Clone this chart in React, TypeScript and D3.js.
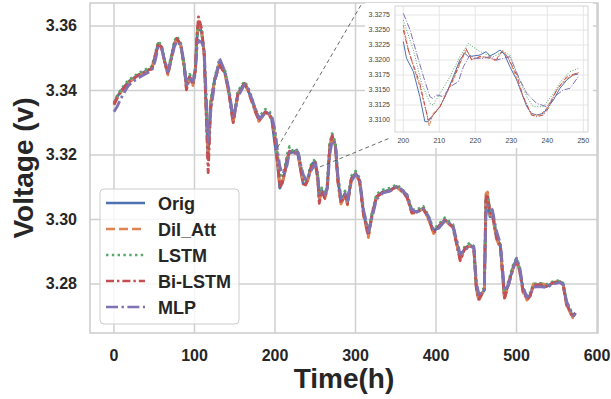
import React from "react";
import * as d3 from "d3";

// ---------- main panel data (hours, volts) ----------
const tMain = [0,4,8,13,18,24,30,36,42,47,51,55,59,63,67,71,75,78,83,87,90,94,98,101,103,105,109,112,115,117,120,125,131,138,143,148,154,162,166,171,176,180,184,188,193,196,200,203,206,209,212,215,218,221,224,227,229,232,235,238,241,244,247,250,253,255,258,262,265,268,271,275,278,282,287,290,295,300,305,310,316,320,326,334,343,351,357,364,370,376,384,390,397,403,411,421,430,436,442,447,450,453,457,460,462,464,467,470,475,480,483,485,490,496,500,504,508,513,517,521,529,537,546,554,558,562,566,570,573];

const origV = [3.3360,3.3380,3.3396,3.3412,3.3427,3.3437,3.3448,3.3455,3.3463,3.3469,3.3505,3.3546,3.3535,3.3490,3.3453,3.3500,3.3545,3.3562,3.3541,3.3480,3.3412,3.3443,3.3422,3.3464,3.3560,3.3608,3.3577,3.3515,3.3309,3.3190,3.3360,3.3433,3.3484,3.3453,3.3391,3.3303,3.3391,3.3422,3.3405,3.3371,3.3335,3.3309,3.3322,3.3334,3.3326,3.3310,3.3231,3.3175,3.3097,3.3115,3.3144,3.3190,3.3206,3.3208,3.3210,3.3215,3.3195,3.3150,3.3111,3.3110,3.3128,3.3158,3.3175,3.3178,3.3130,3.3065,3.3091,3.3071,3.3102,3.3226,3.3257,3.3230,3.3125,3.3055,3.3081,3.3052,3.3128,3.3143,3.3122,3.3019,3.2952,3.3009,3.3071,3.3086,3.3091,3.3102,3.3091,3.3071,3.3024,3.3024,3.3035,3.3009,3.2962,3.2978,3.2999,3.2978,3.2882,3.2911,3.2921,3.2911,3.2792,3.2756,3.2771,3.2781,3.3060,3.3071,3.3009,3.3019,3.2947,3.2916,3.2823,3.2761,3.2802,3.2854,3.2874,3.2843,3.2781,3.2756,3.2766,3.2797,3.2797,3.2792,3.2804,3.2807,3.2797,3.2740,3.2719,3.2699,3.2711];

const dilAttV = [3.3355,3.3376,3.3392,3.3409,3.3424,3.3434,3.3445,3.3452,3.3460,3.3466,3.3500,3.3544,3.3532,3.3486,3.3448,3.3496,3.3542,3.3560,3.3538,3.3476,3.3405,3.3440,3.3415,3.3460,3.3565,3.3615,3.3580,3.3510,3.3300,3.3185,3.3355,3.3430,3.3480,3.3450,3.3386,3.3298,3.3388,3.3420,3.3402,3.3366,3.3330,3.3304,3.3318,3.3332,3.3324,3.3308,3.3258,3.3180,3.3105,3.3112,3.3142,3.3188,3.3210,3.3205,3.3205,3.3212,3.3200,3.3152,3.3110,3.3108,3.3122,3.3152,3.3172,3.3176,3.3125,3.3058,3.3085,3.3066,3.3098,3.3222,3.3255,3.3226,3.3118,3.3048,3.3076,3.3045,3.3124,3.3140,3.3118,3.3012,3.2944,3.3004,3.3068,3.3084,3.3089,3.3100,3.3088,3.3067,3.3019,3.3021,3.3033,3.3005,3.2956,3.2975,3.2997,3.2975,3.2876,3.2908,3.2919,3.2908,3.2785,3.2748,3.2768,3.2790,3.3080,3.3085,3.3015,3.3012,3.2940,3.2910,3.2815,3.2752,3.2798,3.2850,3.2872,3.2838,3.2775,3.2750,3.2762,3.2800,3.2802,3.2798,3.2806,3.2808,3.2795,3.2735,3.2714,3.2695,3.2708];

const lstmV = [3.3362,3.3384,3.3400,3.3417,3.3432,3.3442,3.3453,3.3460,3.3468,3.3474,3.3510,3.3552,3.3540,3.3495,3.3457,3.3505,3.3552,3.3568,3.3546,3.3486,3.3420,3.3450,3.3430,3.3470,3.3565,3.3612,3.3585,3.3520,3.3320,3.3205,3.3365,3.3440,3.3490,3.3460,3.3396,3.3310,3.3398,3.3428,3.3412,3.3378,3.3342,3.3316,3.3330,3.3342,3.3334,3.3318,3.3267,3.3205,3.3140,3.3128,3.3158,3.3200,3.3226,3.3215,3.3210,3.3212,3.3205,3.3170,3.3130,3.3122,3.3132,3.3165,3.3180,3.3186,3.3138,3.3072,3.3098,3.3078,3.3110,3.3235,3.3266,3.3238,3.3132,3.3062,3.3088,3.3060,3.3135,3.3150,3.3128,3.3026,3.2960,3.3015,3.3078,3.3092,3.3097,3.3108,3.3096,3.3077,3.3030,3.3030,3.3041,3.3015,3.2968,3.2984,3.3005,3.2984,3.2888,3.2917,3.2927,3.2917,3.2800,3.2765,3.2778,3.2788,3.3062,3.3075,3.3030,3.3025,3.2955,3.2922,3.2830,3.2768,3.2808,3.2860,3.2880,3.2848,3.2788,3.2762,3.2772,3.2800,3.2802,3.2798,3.2808,3.2811,3.2802,3.2746,3.2725,3.2704,3.2716];

const biLstmV = [3.3356,3.3378,3.3394,3.3410,3.3425,3.3436,3.3447,3.3454,3.3462,3.3468,3.3503,3.3545,3.3534,3.3488,3.3450,3.3498,3.3544,3.3561,3.3540,3.3478,3.3402,3.3441,3.3418,3.3462,3.3570,3.3628,3.3590,3.3512,3.3290,3.3145,3.3340,3.3428,3.3482,3.3450,3.3388,3.3300,3.3390,3.3421,3.3404,3.3369,3.3333,3.3306,3.3320,3.3333,3.3325,3.3310,3.3250,3.3185,3.3102,3.3114,3.3145,3.3185,3.3212,3.3204,3.3203,3.3214,3.3198,3.3155,3.3110,3.3107,3.3125,3.3155,3.3174,3.3176,3.3126,3.3050,3.3088,3.3065,3.3100,3.3228,3.3260,3.3232,3.3120,3.3050,3.3078,3.3048,3.3126,3.3142,3.3120,3.3015,3.2950,3.3006,3.3070,3.3085,3.3090,3.3101,3.3090,3.3069,3.3021,3.3023,3.3034,3.3007,3.2958,3.2977,3.2998,3.2976,3.2872,3.2910,3.2920,3.2910,3.2788,3.2752,3.2770,3.2785,3.3068,3.3078,3.3020,3.3015,3.2945,3.2914,3.2820,3.2756,3.2800,3.2852,3.2873,3.2840,3.2778,3.2752,3.2764,3.2796,3.2798,3.2793,3.2804,3.2806,3.2796,3.2738,3.2716,3.2697,3.2710];

const mlpV = [3.3334,3.3350,3.3372,3.3395,3.3415,3.3428,3.3438,3.3447,3.3455,3.3462,3.3490,3.3535,3.3530,3.3492,3.3458,3.3492,3.3535,3.3552,3.3540,3.3485,3.3418,3.3435,3.3428,3.3450,3.3530,3.3555,3.3548,3.3530,3.3360,3.3240,3.3330,3.3425,3.3500,3.3458,3.3400,3.3315,3.3380,3.3418,3.3408,3.3376,3.3340,3.3315,3.3318,3.3330,3.3328,3.3318,3.3278,3.3215,3.3165,3.3142,3.3150,3.3168,3.3208,3.3205,3.3206,3.3206,3.3207,3.3170,3.3140,3.3125,3.3125,3.3148,3.3160,3.3172,3.3145,3.3080,3.3085,3.3078,3.3095,3.3200,3.3245,3.3235,3.3140,3.3065,3.3080,3.3060,3.3118,3.3140,3.3128,3.3030,3.2962,3.3000,3.3062,3.3082,3.3088,3.3100,3.3094,3.3076,3.3030,3.3022,3.3032,3.3013,3.2968,3.2972,3.2995,3.2982,3.2892,3.2905,3.2918,3.2915,3.2810,3.2768,3.2772,3.2775,3.3010,3.3045,3.3035,3.3030,3.2965,3.2925,3.2840,3.2780,3.2795,3.2850,3.2880,3.2852,3.2790,3.2760,3.2764,3.2790,3.2792,3.2789,3.2800,3.2805,3.2800,3.2748,3.2722,3.2702,3.2706];

// ---------- inset data (zoom of hours 200-249) ----------
const insetOrigT = [200.0,200.9,202.8,204.6,206.0,206.9,208.3,210.2,212.0,213.9,215.7,217.1,218.1,219.4,221.3,223.0,224.1,225.5,226.9,228.2,229.6,231.5,232.9,234.3,235.6,237.0,238.9,240.3,241.7,243.5,245.4,247.2,248.6];
const insetOrigV = [3.32306,3.32028,3.31806,3.31389,3.30972,3.30972,3.31083,3.31222,3.31444,3.31722,3.32000,3.32111,3.32056,3.32067,3.32083,3.32139,3.32067,3.32111,3.32167,3.32083,3.31889,3.31667,3.31444,3.31222,3.31111,3.31083,3.31111,3.31222,3.31333,3.31528,3.31667,3.31750,3.31767];

const insetDilT = [200.0,201.4,202.8,204.6,206.5,207.2,208.3,210.2,213.9,216.2,217.6,219.0,221.3,224.1,225.5,227.3,228.7,230.6,233.3,235.6,238.0,239.8,242.6,245.4,248.6];
const insetDilV = [3.32583,3.32167,3.31889,3.31556,3.31111,3.30900,3.31111,3.31222,3.31667,3.32000,3.32167,3.32011,3.32056,3.32044,3.31989,3.32139,3.32083,3.31833,3.31389,3.31083,3.31083,3.31194,3.31500,3.31694,3.31789];

const insetLstmT = [200.0,202.8,205.1,207.4,208.3,210.2,213.0,215.7,218.1,219.9,222.2,225.0,227.8,229.6,231.5,234.3,236.1,238.9,241.7,244.0,246.3,248.6];
const insetLstmV = [3.32667,3.32167,3.31611,3.31278,3.31250,3.31444,3.31722,3.32056,3.32278,3.32194,3.32111,3.32056,3.32139,3.32083,3.31778,3.31389,3.31222,3.31222,3.31444,3.31667,3.31806,3.31861];

const insetBiT = [200.0,201.4,202.8,204.6,206.5,206.9,208.3,210.2,213.9,217.4,219.0,221.3,224.1,225.9,227.6,229.2,231.5,233.3,235.6,237.0,238.9,240.3,242.6,245.4,248.6];
const insetBiV = [3.32500,3.32167,3.31917,3.31611,3.31111,3.31000,3.31083,3.31222,3.31694,3.32194,3.32000,3.32056,3.32028,3.32000,3.32156,3.32028,3.31750,3.31389,3.31083,3.31056,3.31083,3.31194,3.31500,3.31722,3.31789];

const insetMlpT = [200.0,201.9,203.7,205.6,207.4,208.1,209.3,211.1,213.0,215.3,216.7,218.5,219.9,222.2,224.1,225.9,227.8,229.6,232.4,234.3,237.0,239.8,242.6,244.4,246.3,248.6];
const insetMlpV = [3.32778,3.32500,3.32111,3.31722,3.31389,3.31361,3.31417,3.31389,3.31556,3.31639,3.31889,3.32083,3.32028,3.32028,3.32056,3.32000,3.32028,3.32056,3.31667,3.31444,3.31278,3.31222,3.31417,3.31500,3.31528,3.31722];

// ---------- labels, ticks ----------
const seriesNames = ["Orig", "Dil_Att", "LSTM", "Bi-LSTM", "MLP"];
const seriesColors = ["#4C72B0", "#DD8452", "#55A868", "#C44E52", "#8172B3"];
const xTicks = [0, 100, 200, 300, 400, 500, 600];
const yTicks = [3.28, 3.30, 3.32, 3.34, 3.36];
const insetXTicks = [200, 210, 220, 230, 240, 250];
const insetYTicks = [3.31, 3.3125, 3.315, 3.3175, 3.32, 3.3225, 3.325, 3.3275];
// connector anchors: main-data start points, inset-data end points
const connStartMain = [[203.1, 3.3223], [255.9, 3.3163]];
const connEndInset = [[188.4, 3.3293], [196.3, 3.3070]];

const W = 611, H = 399;
const FONT = "'Liberation Sans', Arial, Helvetica, sans-serif";
const mainDash = ["", "9,4", "2.4,3.4", "8,3,2.4,3", "12,3.5,2.4,3.5"];
const insetDash = ["", "3.7,1.6", "1,1.65", "5,1.6,1,1.6", "6.4,1.6,1,1.6"];

export default function App() {
  const x = d3.scaleLinear().domain([-29.8, 601.2]).range([90, 598]);
  const y = d3.scaleLinear().domain([3.2648, 3.3671]).range([333, 3]);
  const ix = d3.scaleLinear().domain([197.7, 251.3]).range([395, 588]);
  const iy = d3.scaleLinear().domain([3.3080, 3.3290]).range([132, 6]);

  const mainSeries = [origV, dilAttV, lstmV, biLstmV, mlpV];
  const insetSeries: [number[], number[]][] = [
    [insetOrigT, insetOrigV],
    [insetDilT, insetDilV],
    [insetLstmT, insetLstmV],
    [insetBiT, insetBiV],
    [insetMlpT, insetMlpV],
  ];

  const mainLine = d3
    .line<number>()
    .x((_, i) => x(tMain[i]))
    .y((d) => y(d));

  const [x0, x1] = x.range();
  const [y0, y1] = [y.range()[1], y.range()[0]];

  return (
    <svg width={W} height={H} style={{ position: "absolute", left: 0, top: 0, background: "#fff" }} fontFamily={FONT}>
      <defs>
        <clipPath id="mainClip">
          <rect x={x0} y={y0} width={x1 - x0} height={y1 - y0} />
        </clipPath>
        <clipPath id="insetClip">
          <rect x={395} y={6} width={193} height={126} />
        </clipPath>
      </defs>
      <rect x={0} y={0} width={W} height={H} fill="#fff" />
      {/* main grid */}
      {xTicks.map((t) => (
        <line key={"gx" + t} x1={x(t)} x2={x(t)} y1={y0} y2={y1} stroke="#d0d0d0" strokeWidth={1.5} />
      ))}
      {yTicks.map((t) => (
        <line key={"gy" + t} x1={x0} x2={x1} y1={y(t)} y2={y(t)} stroke="#d0d0d0" strokeWidth={1.5} />
      ))}
      <rect x={x0} y={y0} width={x1 - x0} height={y1 - y0} fill="none" stroke="#cccccc" strokeWidth={1.5} />
      {/* main lines */}
      <g clipPath="url(#mainClip)">
        {mainSeries.map((s, i) => (
          <path
            key={"m" + i}
            d={mainLine(s) || ""}
            fill="none"
            stroke={seriesColors[i]}
            strokeWidth={2.8}
            strokeDasharray={mainDash[i] || undefined}
            strokeLinejoin="round"
          />
        ))}
      </g>
      {/* main tick labels */}
      {xTicks.map((t) => (
        <text key={"tx" + t} x={x(t)} y={361} textAnchor="middle" fontSize={16} fontWeight="bold" fill="#262626">
          {t}
        </text>
      ))}
      {yTicks.map((t) => (
        <text key={"ty" + t} x={77} y={y(t) + 5.5} textAnchor="end" fontSize={16} fontWeight="bold" fill="#262626">
          {t.toFixed(2)}
        </text>
      ))}
      <text x={(x0 + x1) / 2} y={388} textAnchor="middle" fontSize={28} fontWeight="bold" fill="#262626">
        Time(h)
      </text>
      <text
        transform={`translate(33, ${(y0 + y1) / 2}) rotate(-90)`}
        textAnchor="middle"
        fontSize={28}
        fontWeight="bold"
        fill="#262626"
      >
        Voltage (v)
      </text>

      {/* legend */}
      <rect x={100} y={189} width={139} height={135} rx={4} fill="#fff" fillOpacity={0.8} stroke="#cccccc" strokeWidth={1} />
      {seriesNames.map((n, i) => (
        <g key={"lg" + n}>
          <line
            x1={106}
            x2={145}
            y1={203 + i * 26}
            y2={203 + i * 26}
            stroke={seriesColors[i]}
            strokeWidth={2.4}
            strokeDasharray={mainDash[i] || undefined}
          />
          <text x={158} y={209.5 + i * 26} fontSize={18} fontWeight="bold" fill="#262626">
            {n}
          </text>
        </g>
      ))}

      {/* inset */}
      <rect x={365} y={3} width={228} height={145} fill="#fff" />
      {insetXTicks.map((t) => (
        <line key={"igx" + t} x1={ix(t)} x2={ix(t)} y1={6} y2={132} stroke="#e3e3e3" strokeWidth={0.9} />
      ))}
      {insetYTicks.map((t) => (
        <line key={"igy" + t} x1={395} x2={588} y1={iy(t)} y2={iy(t)} stroke="#e3e3e3" strokeWidth={0.9} />
      ))}
      <rect x={395} y={6} width={193} height={126} fill="none" stroke="#d4d4d4" strokeWidth={1} />
      <g clipPath="url(#insetClip)">
        {insetSeries.map(([ts, vs], i) => {
          const ln = d3
            .line<number>()
            .x((_, k) => ix(ts[k]))
            .y((d) => iy(d));
          return (
            <path
              key={"is" + i}
              d={ln(vs) || ""}
              fill="none"
              stroke={seriesColors[i]}
              strokeWidth={1}
              strokeDasharray={insetDash[i] || undefined}
              strokeLinejoin="round"
            />
          );
        })}
      </g>
      {insetXTicks.map((t) => (
        <text key={"itx" + t} x={ix(t)} y={142.5} textAnchor="middle" fontSize={7} fill="#444">
          {t}
        </text>
      ))}
      {insetYTicks.map((t) => (
        <text key={"ity" + t} x={390} y={iy(t) + 2.4} textAnchor="end" fontSize={7} fill="#444">
          {t.toFixed(4)}
        </text>
      ))}

      {/* connectors */}
      {connStartMain.map((p, i) => (
        <line
          key={"cn" + i}
          x1={x(p[0])}
          y1={y(p[1])}
          x2={ix(connEndInset[i][0])}
          y2={iy(connEndInset[i][1])}
          stroke="#444"
          strokeWidth={0.8}
          strokeDasharray="4,3"
        />
      ))}
    </svg>
  );
}
